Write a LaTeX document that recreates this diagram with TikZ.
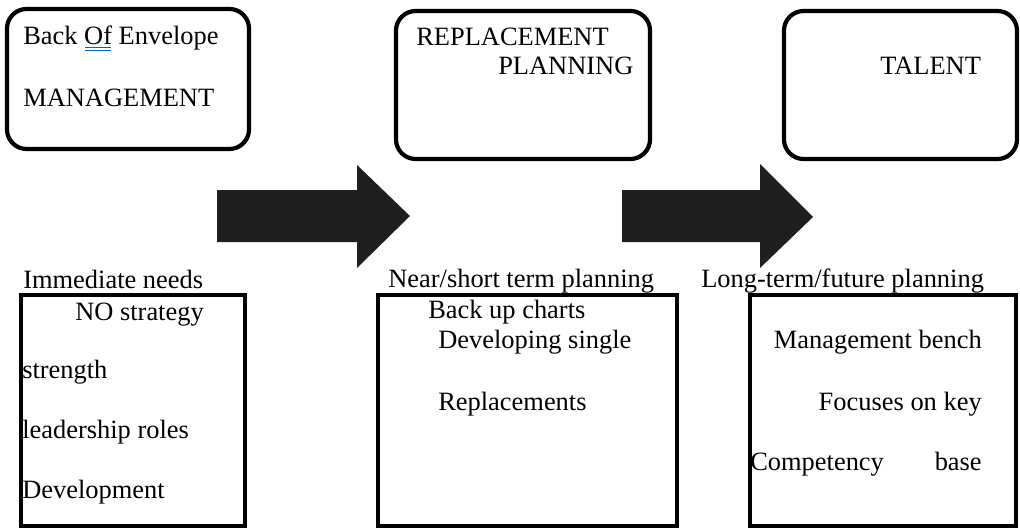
\documentclass[tikz,border=0pt]{standalone}
\usepackage{fontspec}
\setmainfont{Liberation Serif}
\usepackage{xcolor}
\usepackage{tikz}
\usetikzlibrary{positioning}

\begin{document}
\begin{tikzpicture}[
  x=0.025cm, y=-0.025cm,
  txt/.style={inner sep=0pt, font=\fontsize{18.8}{22}\selectfont},
  lefttxt/.style={txt, anchor=base west},
  righttxt/.style={txt, anchor=base east},
  stagebox/.style={draw, line width=3pt, rounded corners=14pt, inner sep=0pt},
  listbox/.style={draw, line width=3pt, inner sep=0pt},
  blockarrow/.style={fill=black!88}
]
\useasboundingbox (0,0) rectangle (1020,532);

% stages at the top
\node[stagebox, minimum width=6.05cm, minimum height=3.5cm] (s1) at (128,79) {};
\node[stagebox, minimum width=6.35cm, minimum height=3.7cm] (s2) at (523,85) {};
\node[stagebox, minimum width=5.825cm, minimum height=3.7cm] (s3) at (900.5,85) {};

\node[lefttxt] (s1a) at (23,45) {Back Of Envelope};
\node[lefttxt] (s1b) at (23,106) {MANAGEMENT};
\node[lefttxt] (s2a) at (416,46) {REPLACEMENT};
\node[lefttxt] (s2b) at (498,75) {PLANNING};
\node[lefttxt] (s3a) at (880,75) {TALENT};
\draw[blue!45!cyan!70!black, line width=0.9pt] (85,47.5) -- (111,47.5) (85,50.5) -- (111,50.5);

% arrows between the stages
\fill[blockarrow] (217,190) -- (357,190) -- (357,165) -- (410,216)
  -- (357,268) -- (357,242) -- (217,242) -- cycle;
\fill[blockarrow] (622,190) -- (760,190) -- (760,164) -- (813,217)
  -- (760,268) -- (760,242) -- (622,242) -- cycle;

% planning horizon
\node[lefttxt] (h1) at (23,288) {Immediate needs};
\node[lefttxt] (h2) at (388,287) {Near/short term planning};
\node[lefttxt] (h3) at (701,287) {Long-term/future planning};

% lists at the bottom
\node[listbox, minimum width=5.6cm, minimum height=5.775cm] (l1) at (133,410.5) {};
\node[listbox, minimum width=7.475cm, minimum height=5.775cm] (l2) at (527.5,410.5) {};
\node[listbox, minimum width=6.65cm, minimum height=5.775cm] (l3) at (883,410.5) {};

\node[lefttxt] (l1a) at (75,320) {NO strategy};
\node[lefttxt] (l1b) at (22,378) {strength};
\node[lefttxt] (l1c) at (22,438) {leadership roles};
\node[lefttxt] (l1d) at (22,498) {Development};

\node[lefttxt] (l2a) at (428,318) {Back up charts};
\node[lefttxt] (l2b) at (438,348) {Developing single};
\node[lefttxt] (l2c) at (438,410) {Replacements};

\node[righttxt] (l3a) at (982,348) {Management bench};
\node[righttxt] (l3b) at (982,410) {Focuses on key};
\node[lefttxt] (l3c) at (750,470) {Competency};
\node[righttxt] (l3d) at (982,470) {base};
\end{tikzpicture}
\end{document}
